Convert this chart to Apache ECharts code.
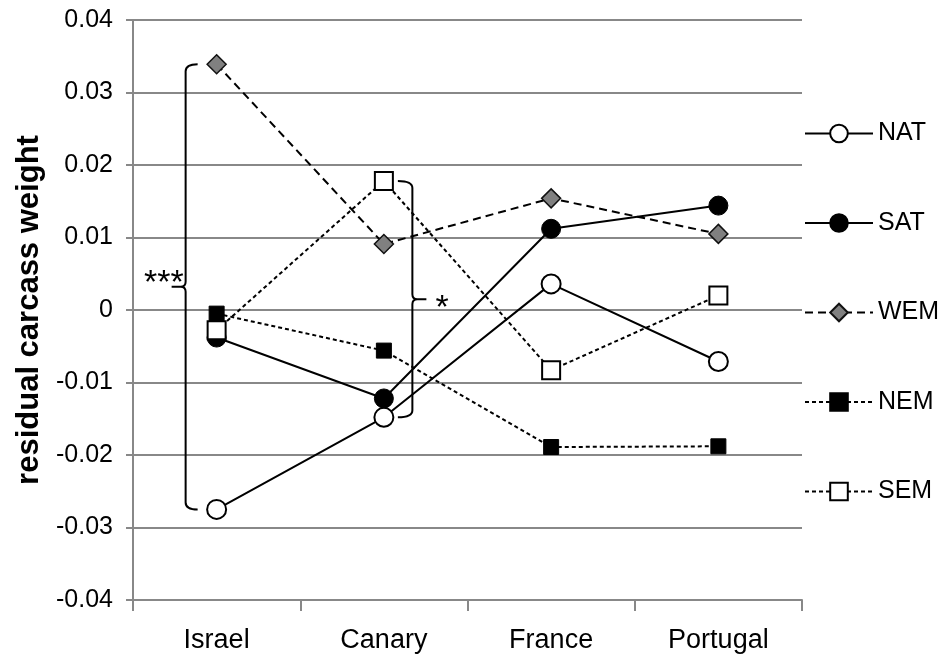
<!DOCTYPE html>
<html><head><meta charset="utf-8">
<script src="https://cdn.jsdelivr.net/npm/echarts@6/dist/echarts.min.js"></script>
<style>html,body{margin:0;padding:0;background:#fff}#c{width:942px;height:663px}</style>
</head><body><div id="c"></div>
<script>
// ---- data ----
const categories = ['Israel', 'Canary', 'France', 'Portugal'];
const NAT = [-0.0275, -0.0148, 0.0036, -0.0071];
const SAT = [-0.0038, -0.0122, 0.0112, 0.0144];
const WEM = [0.0339, 0.0091, 0.0154, 0.0105];
const NEM = [-0.0005, -0.0056, -0.0189, -0.0188];
const SEM = [-0.0028, 0.0178, -0.0083, 0.0020];
const yMin = -0.04, yMax = 0.04, yStep = 0.01;
const yTitle = 'residual carcass weight';
// significance brackets: category, series at top end, series at bottom end, label
const bracketCats = ['Israel', 'Canary'];
const bracketTop = ['WEM', 'SEM'];
const bracketBottom = ['NAT', 'NAT'];
const bracketLabels = ['***', '*'];
// ---------------

const seriesValues = { NAT, SAT, WEM, NEM, SEM };
const FONT = 'Liberation Sans';
const bracketSide = [-1, 1];

const bracketData = bracketCats.map((c, i) => {
  const ci = categories.indexOf(c);
  return [c, seriesValues[bracketTop[i]][ci], seriesValues[bracketBottom[i]][ci], bracketSide[i]];
});

const styles = {
  NAT: { symbol: 'circle', symbolSize: 19, itemStyle: { color: '#fff', borderColor: '#000', borderWidth: 2 }, lineStyle: { color: '#000', width: 2, type: 'solid' } },
  SAT: { symbol: 'circle', symbolSize: 19, itemStyle: { color: '#000', borderColor: '#000', borderWidth: 1 }, lineStyle: { color: '#000', width: 2, type: 'solid' } },
  WEM: { symbol: 'diamond', symbolSize: 19, itemStyle: { color: '#808080', borderColor: '#111', borderWidth: 1.5 }, lineStyle: { color: '#000', width: 2, type: [8, 5] } },
  NEM: { symbol: 'rect', symbolSize: 15, itemStyle: { color: '#000', borderColor: '#000', borderWidth: 1 }, lineStyle: { color: '#000', width: 2, type: [4, 3] } },
  SEM: { symbol: 'rect', symbolSize: 18, itemStyle: { color: '#fff', borderColor: '#000', borderWidth: 2 }, lineStyle: { color: '#000', width: 2, type: [4, 3] } }
};

const lineSeries = Object.keys(seriesValues).map(name => Object.assign({
  name, type: 'line', data: seriesValues[name], showSymbol: true, animation: false, z: 3
}, styles[name]));

const bracketSeries = {
  type: 'custom', animation: false, z: 4, silent: true,
  dimensions: ['cat', 'top', 'bottom', 'side'],
  encode: { x: 0, y: [1, 2] },
  data: bracketData,
  renderItem: function (params, api) {
    const ci = api.value(0);
    const pTop = api.coord([ci, api.value(1)]);
    const pBot = api.coord([ci, api.value(2)]);
    const side = api.value(3);
    const cx = pTop[0];
    const top = pTop[1], bot = pBot[1], mid = (top + bot) / 2;
    const vx = cx + side * (side < 0 ? 31 : 28.5);
    const hx = cx + side * (side < 0 ? 19 : 14);
    const tip = vx + side * 14;
    const r = 7;
    const d = [
      'M', hx, top, 'Q', vx, top, vx, top + r,
      'L', vx, mid - 5, 'Q', vx, mid, vx + side * 5, mid, 'L', tip, mid,
      'M', vx + side * 5, mid, 'Q', vx, mid, vx, mid + 5,
      'L', vx, bot - r, 'Q', vx, bot, hx, bot
    ].join(' ');
    const label = bracketLabels[params.dataIndex];
    const txt = side < 0
      ? { type: 'text', style: { text: label, x: vx - 2, y: mid - 3, align: 'right', verticalAlign: 'middle', fontSize: 34, fontFamily: FONT, fill: '#000' } }
      : { type: 'text', style: { text: label, x: tip + 9, y: mid + 9, align: 'left', verticalAlign: 'middle', fontSize: 34, fontFamily: FONT, fill: '#000' } };
    return {
      type: 'group',
      children: [
        { type: 'path', shape: { pathData: d }, style: { fill: 'none', stroke: '#000', lineWidth: 2 } },
        txt
      ]
    };
  }
};

const chart = echarts.init(document.getElementById('c'), null, { renderer: 'canvas' });
chart.setOption({
  animation: false,
  backgroundColor: '#fff',
  textStyle: { fontFamily: FONT },
  grid: { left: 133, right: 140, top: 20, bottom: 63, containLabel: false },
  legend: {
    orient: 'vertical', left: 804, top: 121, padding: 0,
    itemWidth: 68, itemHeight: 22, itemGap: 64.5,
    data: Object.keys(seriesValues),
    textStyle: { fontSize: 25, color: '#000', fontFamily: FONT, lineHeight: 25 },
    selectedMode: false
  },
  xAxis: {
    type: 'category', data: categories, boundaryGap: true,
    axisLine: { show: true, onZero: false, lineStyle: { color: '#888', width: 2 } },
    axisTick: { show: true, length: 11, lineStyle: { color: '#888', width: 2 } },
    axisLabel: { fontSize: 27, color: '#000', margin: 27, fontFamily: FONT },
    splitLine: { show: false }
  },
  yAxis: {
    type: 'value', min: yMin, max: yMax, interval: yStep,
    name: yTitle, nameLocation: 'middle', nameGap: 66, nameRotate: 90,
    nameTextStyle: { fontSize: 31, fontWeight: 'bold', color: '#000', fontFamily: FONT },
    axisLine: { show: true, lineStyle: { color: '#888', width: 2 } },
    axisTick: { show: true, length: 7, lineStyle: { color: '#888', width: 2 } },
    axisLabel: { fontSize: 25, color: '#000', margin: 20, fontFamily: FONT,
      formatter: v => String(Math.round(v * 100) / 100) },
    splitLine: { show: true, lineStyle: { color: '#888', width: 2 } }
  },
  series: lineSeries.concat([bracketSeries])
});
</script>
</body></html>
